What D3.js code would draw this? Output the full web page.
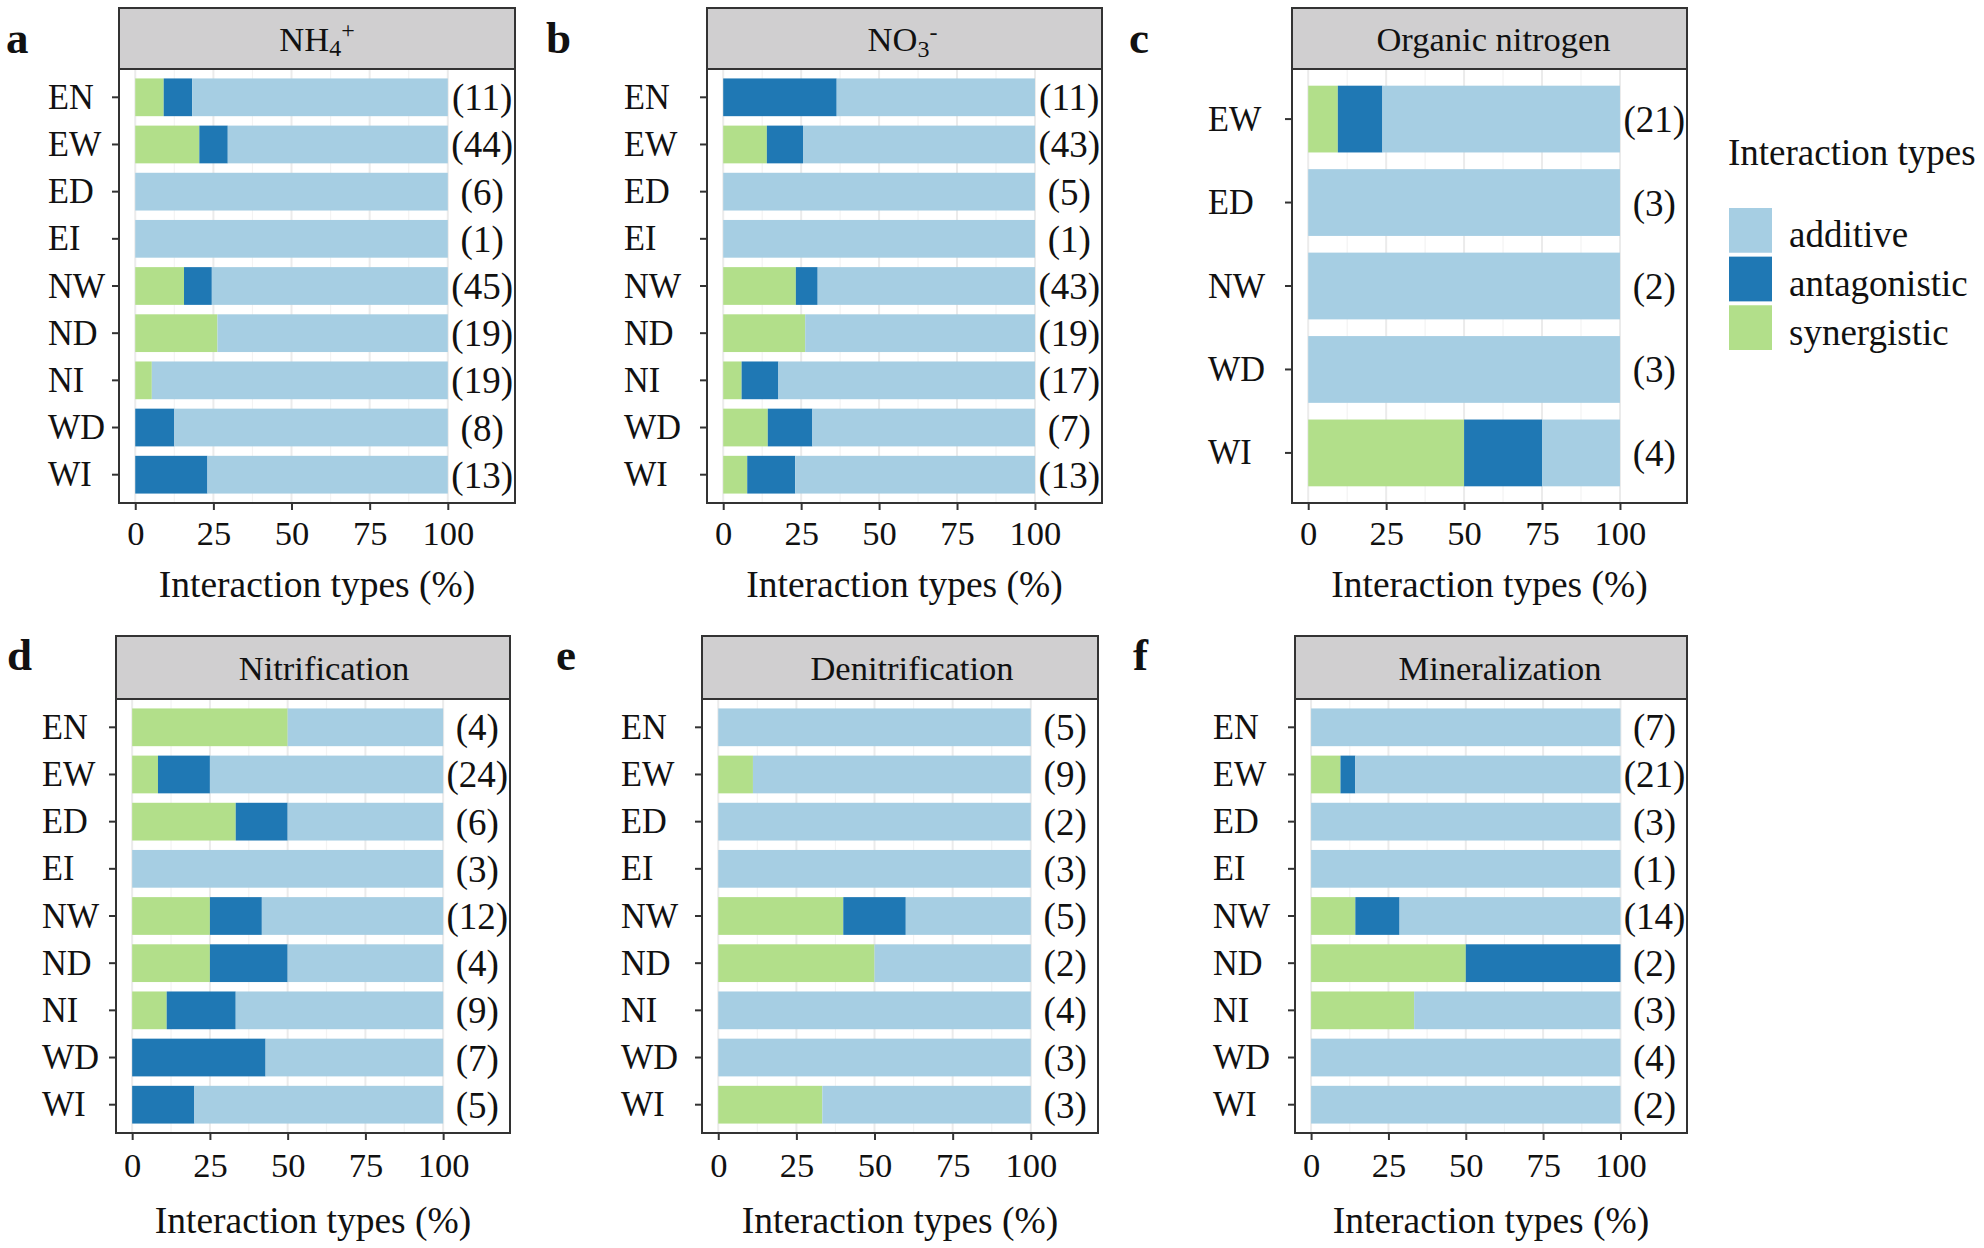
<!DOCTYPE html>
<html>
<head>
<meta charset="utf-8">
<script src="https://cdn.jsdelivr.net/npm/d3@7"></script>
<style>
  body { margin: 0; background: #fff; }
  text { font-family: 'Liberation Serif', 'Times New Roman', serif; fill: #111; }
</style>
</head>
<body>
<div id="chart"></div>
<script>
// categories and ticks
var regions = ['EN', 'EW', 'ED', 'EI', 'NW', 'ND', 'NI', 'WD', 'WI']
var regionsOrgN = ['EW', 'ED', 'NW', 'WD', 'WI']
var typeKeys = ['synergistic', 'antagonistic', 'additive']
var legendKeys = ['additive', 'antagonistic', 'synergistic']
var xTicks = [0, 25, 50, 75, 100]
var xMinorTicks = [12.5, 37.5, 62.5, 87.5]

// a: NH4+ (% of cases, n in brackets)
var nh4Syn = [9.1, 20.5, 0, 0, 15.6, 26.3, 5.3, 0, 0]
var nh4Ant = [9.1, 9.1, 0, 0, 8.9, 0, 0, 12.5, 23.1]
var nh4Add = [81.8, 70.4, 100, 100, 75.5, 73.7, 94.7, 87.5, 76.9]
var nh4N = [11, 44, 6, 1, 45, 19, 19, 8, 13]

// b: NO3-
var no3Syn = [0, 14.0, 0, 0, 23.3, 26.3, 5.9, 14.3, 7.7]
var no3Ant = [36.4, 11.6, 0, 0, 7.0, 0, 11.8, 14.3, 15.4]
var no3Add = [63.6, 74.4, 100, 100, 69.7, 73.7, 82.3, 71.4, 76.9]
var no3N = [11, 43, 5, 1, 43, 19, 17, 7, 13]

// c: organic nitrogen
var orgSyn = [9.5, 0, 0, 0, 50]
var orgAnt = [14.3, 0, 0, 0, 25]
var orgAdd = [76.2, 100, 100, 100, 25]
var orgN = [21, 3, 2, 3, 4]

// d: nitrification
var nitSyn = [50, 8.3, 33.3, 0, 25, 25, 11.1, 0, 0]
var nitAnt = [0, 16.7, 16.7, 0, 16.7, 25, 22.2, 42.9, 20]
var nitAdd = [50, 75, 50, 100, 58.3, 50, 66.7, 57.1, 80]
var nitN = [4, 24, 6, 3, 12, 4, 9, 7, 5]

// e: denitrification
var denSyn = [0, 11.1, 0, 0, 40, 50, 0, 0, 33.3]
var denAnt = [0, 0, 0, 0, 20, 0, 0, 0, 0]
var denAdd = [100, 88.9, 100, 100, 40, 50, 100, 100, 66.7]
var denN = [5, 9, 2, 3, 5, 2, 4, 3, 3]

// f: mineralization
var minSyn = [0, 9.5, 0, 0, 14.3, 50, 33.3, 0, 0]
var minAnt = [0, 4.8, 0, 0, 14.3, 50, 0, 0, 0]
var minAdd = [100, 85.7, 100, 100, 71.4, 0, 66.7, 100, 100]
var minN = [7, 21, 3, 1, 14, 2, 3, 4, 2]

var panels = [
  { letter: 'a', title: 'NH4+', cats: regions, syn: nh4Syn, ant: nh4Ant, add: nh4Add, n: nh4N },
  { letter: 'b', title: 'NO3-', cats: regions, syn: no3Syn, ant: no3Ant, add: no3Add, n: no3N },
  { letter: 'c', title: 'Organic nitrogen', cats: regionsOrgN, syn: orgSyn, ant: orgAnt, add: orgAdd, n: orgN },
  { letter: 'd', title: 'Nitrification', cats: regions, syn: nitSyn, ant: nitAnt, add: nitAdd, n: nitN },
  { letter: 'e', title: 'Denitrification', cats: regions, syn: denSyn, ant: denAnt, add: denAdd, n: denN },
  { letter: 'f', title: 'Mineralization', cats: regions, syn: minSyn, ant: minAnt, add: minAdd, n: minN }
]

;(function () {
  var width = 1984
  var height = 1248

  var svg = d3.select('#chart')
    .append('svg')
    .attr('width', width)
    .attr('height', height)

  var color = d3.scaleOrdinal()
    .domain(typeKeys)
    .range(['#b2df8a', '#1f78b4', '#a6cee3'])

  // rows of the facet grid
  var rows = [
    { stripTop: 8, stripBottom: 69, bottom: 503, tickBase: 545, titleBase: 597, letterBase: 53 },
    { stripTop: 636, stripBottom: 699, bottom: 1133, tickBase: 1177, titleBase: 1233, letterBase: 670 }
  ]
  // panel boxes, left to right (stripShift: strip text sits a bit off centre)
  var boxes = [
    { row: 0, left: 119, right: 515, labelX: 48, letterX: 6, stripShift: 0 },
    { row: 0, left: 707, right: 1102, labelX: 624, letterX: 546, stripShift: -2 },
    { row: 0, left: 1292, right: 1687, labelX: 1208, letterX: 1129, stripShift: 4 },
    { row: 1, left: 116, right: 510, labelX: 42, letterX: 7, stripShift: 11 },
    { row: 1, left: 702, right: 1098, labelX: 621, letterX: 556, stripShift: 12 },
    { row: 1, left: 1295, right: 1687, labelX: 1213, letterX: 1133, stripShift: 9 }
  ]

  panels.forEach(function (p, i) {
    var box = boxes[i]
    var row = rows[box.row]
    var g = svg.append('g').attr('class', 'panel-' + p.letter)

    var xPositionScale = d3.scaleLinear()
      .domain([-5.2, 121.5])
      .range([box.left, box.right])

    var yPositionScale = d3.scaleBand()
      .domain(p.cats)
      .range([row.stripBottom, row.bottom])
      .paddingInner(0.2)
      .paddingOuter(0.2)

    var datapoints = p.cats.map(function (c, j) {
      return { region: c, synergistic: p.syn[j], antagonistic: p.ant[j], additive: p.add[j], n: p.n[j] }
    })
    var stacked = d3.stack().keys(typeKeys)(datapoints)

    // grid lines
    g.selectAll('.minor')
      .data(xMinorTicks)
      .enter().append('line')
      .attr('x1', d => xPositionScale(d))
      .attr('x2', d => xPositionScale(d))
      .attr('y1', row.stripBottom)
      .attr('y2', row.bottom)
      .attr('stroke', '#f3f3f3')
      .attr('stroke-width', 1.2)
    g.selectAll('.major')
      .data(xTicks)
      .enter().append('line')
      .attr('x1', d => xPositionScale(d))
      .attr('x2', d => xPositionScale(d))
      .attr('y1', row.stripBottom)
      .attr('y2', row.bottom)
      .attr('stroke', '#ebebeb')
      .attr('stroke-width', 2)

    // stacked bars
    g.selectAll('.layer')
      .data(stacked)
      .enter().append('g')
      .attr('fill', d => color(d.key))
      .selectAll('rect')
      .data(d => d)
      .enter().append('rect')
      .attr('x', d => xPositionScale(d[0]))
      .attr('width', d => xPositionScale(d[1]) - xPositionScale(d[0]))
      .attr('y', d => yPositionScale(d.data.region))
      .attr('height', yPositionScale.bandwidth())

    // sample sizes
    g.selectAll('.count')
      .data(datapoints)
      .enter().append('text')
      .attr('x', xPositionScale(111))
      .attr('y', d => yPositionScale(d.region) + yPositionScale.bandwidth() / 2 + 13)
      .attr('text-anchor', 'middle')
      .attr('font-size', 37)
      .text(d => '(' + d.n + ')')

    // panel border
    g.append('rect')
      .attr('x', box.left)
      .attr('y', row.stripBottom)
      .attr('width', box.right - box.left)
      .attr('height', row.bottom - row.stripBottom)
      .attr('fill', 'none')
      .attr('stroke', '#333')
      .attr('stroke-width', 2)

    // strip
    g.append('rect')
      .attr('x', box.left)
      .attr('y', row.stripTop)
      .attr('width', box.right - box.left)
      .attr('height', row.stripBottom - row.stripTop)
      .attr('fill', '#d0cfd0')
      .attr('stroke', '#333')
      .attr('stroke-width', 2)

    var strip = g.append('text')
      .attr('x', (box.left + box.right) / 2 + box.stripShift)
      .attr('y', (row.stripTop + row.stripBottom) / 2 + 12)
      .attr('text-anchor', 'middle')
      .attr('font-size', 34.5)
    if (p.title === 'NH4+') {
      strip.append('tspan').text('NH')
      strip.append('tspan').attr('font-size', 24).attr('dy', 5).text('4')
      strip.append('tspan').attr('font-size', 24).attr('dy', -18).text('+')
    } else if (p.title === 'NO3-') {
      strip.append('tspan').text('NO')
      strip.append('tspan').attr('font-size', 24).attr('dy', 6).text('3')
      strip.append('tspan').attr('font-size', 24).attr('dy', -17).text('-')
    } else {
      strip.text(p.title)
    }

    // axes
    var yAxis = d3.axisLeft(yPositionScale).tickSize(7).tickSizeOuter(0)
    var yg = g.append('g')
      .attr('class', 'axis y-axis')
      .attr('transform', 'translate(' + box.left + ',0)')
      .call(yAxis)
    yg.select('.domain').remove()
    yg.selectAll('.tick line').attr('stroke', '#333').attr('stroke-width', 2)
    // labels are left aligned and a little narrower than plain Times
    yg.selectAll('.tick text')
      .attr('x', 0)
      .attr('transform', 'translate(' + (box.labelX - box.left) + ',0) scale(0.94,1)')
      .attr('dy', 11.5)
      .attr('text-anchor', 'start')
      .attr('font-size', 36.5)
      .attr('font-family', null)
      .attr('fill', '#111')

    var xAxis = d3.axisBottom(xPositionScale).tickValues(xTicks).tickSize(7).tickSizeOuter(0)
    var xg = g.append('g')
      .attr('class', 'axis x-axis')
      .attr('transform', 'translate(0,' + row.bottom + ')')
      .call(xAxis)
    xg.select('.domain').remove()
    xg.selectAll('.tick line').attr('stroke', '#333').attr('stroke-width', 2)
    xg.selectAll('.tick text')
      .attr('y', row.tickBase - row.bottom)
      .attr('dy', 0)
      .attr('font-size', 34.5)
      .attr('font-family', null)
      .attr('fill', '#111')

    g.append('text')
      .attr('x', (box.left + box.right) / 2)
      .attr('y', row.titleBase)
      .attr('text-anchor', 'middle')
      .attr('font-size', 37.5)
      .text('Interaction types (%)')

    g.append('text')
      .attr('x', box.letterX)
      .attr('y', row.letterBase)
      .attr('font-size', 45)
      .attr('font-weight', 'bold')
      .text(p.letter)
  })

  // legend
  var legend = svg.append('g').attr('class', 'legend')
  legend.append('text')
    .attr('x', 1728)
    .attr('y', 165)
    .attr('font-size', 37)
    .text('Interaction types')

  var keyScale = d3.scaleBand()
    .domain(legendKeys)
    .range([208, 350])
    .paddingInner(0.08)

  legend.selectAll('.key')
    .data(legendKeys)
    .enter().append('rect')
    .attr('x', 1729)
    .attr('y', d => keyScale(d))
    .attr('width', 43)
    .attr('height', keyScale.bandwidth())
    .attr('fill', d => color(d))

  legend.selectAll('.label')
    .data(legendKeys)
    .enter().append('text')
    .attr('x', 1789)
    .attr('y', d => keyScale(d) + keyScale.bandwidth() / 2 + 17)
    .attr('font-size', 37)
    .text(d => d)
})()
</script>
</body>
</html>
